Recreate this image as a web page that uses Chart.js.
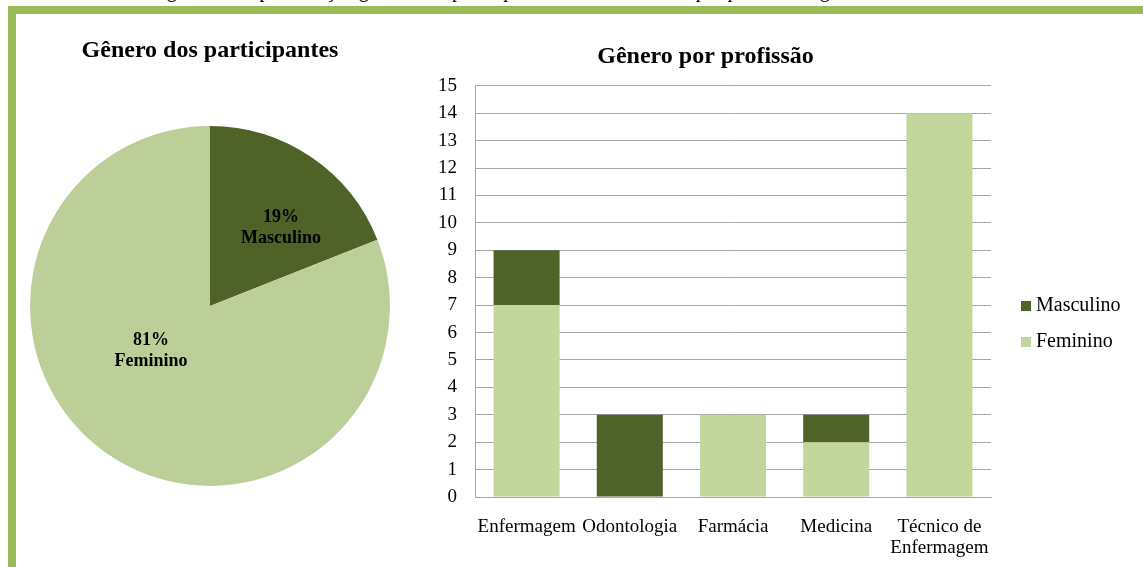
<!DOCTYPE html>
<html lang="pt">
<head>
    <meta charset="UTF-8">
    <title>Gênero dos participantes</title>
    <script src="https://cdn.jsdelivr.net/npm/chart.js"></script>
    <style>
        body {
            margin: 0;
            background-color: #fff;
            width: 1143px;
            height: 567px;
            overflow: hidden;
            position: relative;
            font-family: 'Liberation Serif', 'Times New Roman', serif;
        }

        .caption {
            position: absolute;
            top: -21px;
            left: 150px;
            font-size: 20px;
            white-space: nowrap;
            color: #000;
        }

        /* moldura verde */
        .frame-top {
            position: absolute;
            left: 8px;
            top: 6px;
            width: 1135px;
            height: 8px;
            background-color: #9bbb59;
        }

        .frame-left {
            position: absolute;
            left: 8px;
            top: 6px;
            width: 8px;
            height: 561px;
            background-color: #9bbb59;
        }

        #pieBox {
            position: absolute;
            left: 20px;
            top: 0;
            width: 380px;
            height: 500px;
        }

        #barBox {
            position: absolute;
            left: 420px;
            top: 0;
            width: 723px;
            height: 567px;
        }

        .legend {
            position: absolute;
            left: 1021px;
            top: 291px;
            font-size: 20px;
            color: #000;
        }

        .legend div {
            height: 36px;
            line-height: 26px;
            white-space: nowrap;
        }

        .legend span {
            display: inline-block;
            width: 10px;
            height: 10px;
            margin-right: 5px;
        }
    </style>
</head>
<body>
    <div class="caption">Figura 3 – Representação gráfica dos participantes da área da saúde por profissão e gênero.</div>
    <div class="frame-top"></div>
    <div class="frame-left"></div>

    <div id="pieBox"><canvas id="pieChart"></canvas></div>
    <div id="barBox"><canvas id="barChart"></canvas></div>
    <div class="legend" id="legend"></div>

    <script>
        // dados do grafico de pizza
        const pieLabels = ['Masculino', 'Feminino'];
        const pieValues = [19, 81];

        // dados do grafico de barras
        const professions = ['Enfermagem', 'Odontologia', 'Farmácia', 'Medicina', ['Técnico de', 'Enfermagem']];
        const masculino = [2, 3, 0, 1, 0];
        const feminino = [7, 0, 3, 2, 14];

        const darkGreen = '#4f6228';
        const lightGreen = '#c3d69b';
        const pieLight = '#bccf99';
        const gridGray = '#a6a6a6';

        Chart.defaults.font.family = "'Liberation Serif', 'Times New Roman', serif";
        Chart.defaults.color = '#000';

        // rotulos dentro da pizza
        const pieLabelPlugin = {
            id: 'pieLabels',
            afterDatasetsDraw(chart, args, opts) {
                const ctx = chart.ctx;
                const arcs = chart.getDatasetMeta(0).data;
                ctx.save();
                ctx.font = 'bold 18px "Liberation Serif", serif';
                ctx.fillStyle = '#000';
                ctx.textAlign = 'center';
                ctx.textBaseline = 'middle';
                arcs.forEach((arc, i) => {
                    const spot = opts.spots[i];
                    const a = spot.angle * Math.PI / 180;
                    const d = arc.outerRadius * spot.dist;
                    const x = arc.x + Math.sin(a) * d;
                    const y = arc.y - Math.cos(a) * d;
                    const value = chart.data.datasets[0].data[i];
                    ctx.fillText(value + '%', x, y - 10);
                    ctx.fillText(chart.data.labels[i], x, y + 11);
                });
                ctx.restore();
            }
        };

        new Chart(document.getElementById('pieChart'), {
            type: 'pie',
            data: {
                labels: pieLabels,
                datasets: [{
                    data: pieValues,
                    backgroundColor: [darkGreen, pieLight],
                    borderWidth: 0
                }]
            },
            options: {
                responsive: true,
                maintainAspectRatio: false,
                animation: false,
                layout: { padding: { left: 10, right: 10, bottom: 14 } },
                plugins: {
                    legend: { display: false },
                    tooltip: { enabled: false },
                    title: {
                        display: true,
                        text: 'Gênero dos participantes',
                        font: { size: 24, weight: 'bold' },
                        padding: { top: 36, bottom: 61 }
                    },
                    pieLabels: {
                        spots: [{ angle: 42, dist: 0.59 }, { angle: 233, dist: 0.41 }]
                    }
                }
            },
            plugins: [pieLabelPlugin]
        });

        new Chart(document.getElementById('barChart'), {
            type: 'bar',
            data: {
                labels: professions,
                datasets: [{
                    label: 'Feminino',
                    data: feminino,
                    backgroundColor: lightGreen,
                    barPercentage: 0.64,
                    categoryPercentage: 1
                }, {
                    label: 'Masculino',
                    data: masculino,
                    backgroundColor: darkGreen,
                    barPercentage: 0.64,
                    categoryPercentage: 1
                }]
            },
            options: {
                responsive: true,
                maintainAspectRatio: false,
                animation: false,
                layout: { padding: { right: 152 } },
                plugins: {
                    legend: { display: false },
                    tooltip: { enabled: false },
                    title: {
                        display: true,
                        text: 'Gênero por profissão',
                        font: { size: 24, weight: 'bold' },
                        padding: { top: 42, bottom: 15 }
                    }
                },
                scales: {
                    x: {
                        stacked: true,
                        grid: { display: false, drawTicks: false },
                        border: { color: gridGray },
                        ticks: { font: { size: 19, lineHeight: 1.1 }, padding: 20, maxRotation: 0, autoSkip: false },
                        afterFit(scale) { scale.height = 70; }
                    },
                    y: {
                        stacked: true,
                        min: 0,
                        max: 15,
                        grid: { color: gridGray, drawTicks: false },
                        border: { color: gridGray },
                        ticks: { stepSize: 1, font: { size: 19 }, padding: 18 },
                        afterFit(scale) { scale.width = 55; }
                    }
                }
            }
        });

        // legenda (Masculino em cima, como no original)
        const legendItems = [['Masculino', darkGreen], ['Feminino', lightGreen]];
        document.getElementById('legend').innerHTML = legendItems
            .map(item => `<div><span style="background:${item[1]}"></span>${item[0]}</div>`)
            .join('');
    </script>
</body>
</html>
